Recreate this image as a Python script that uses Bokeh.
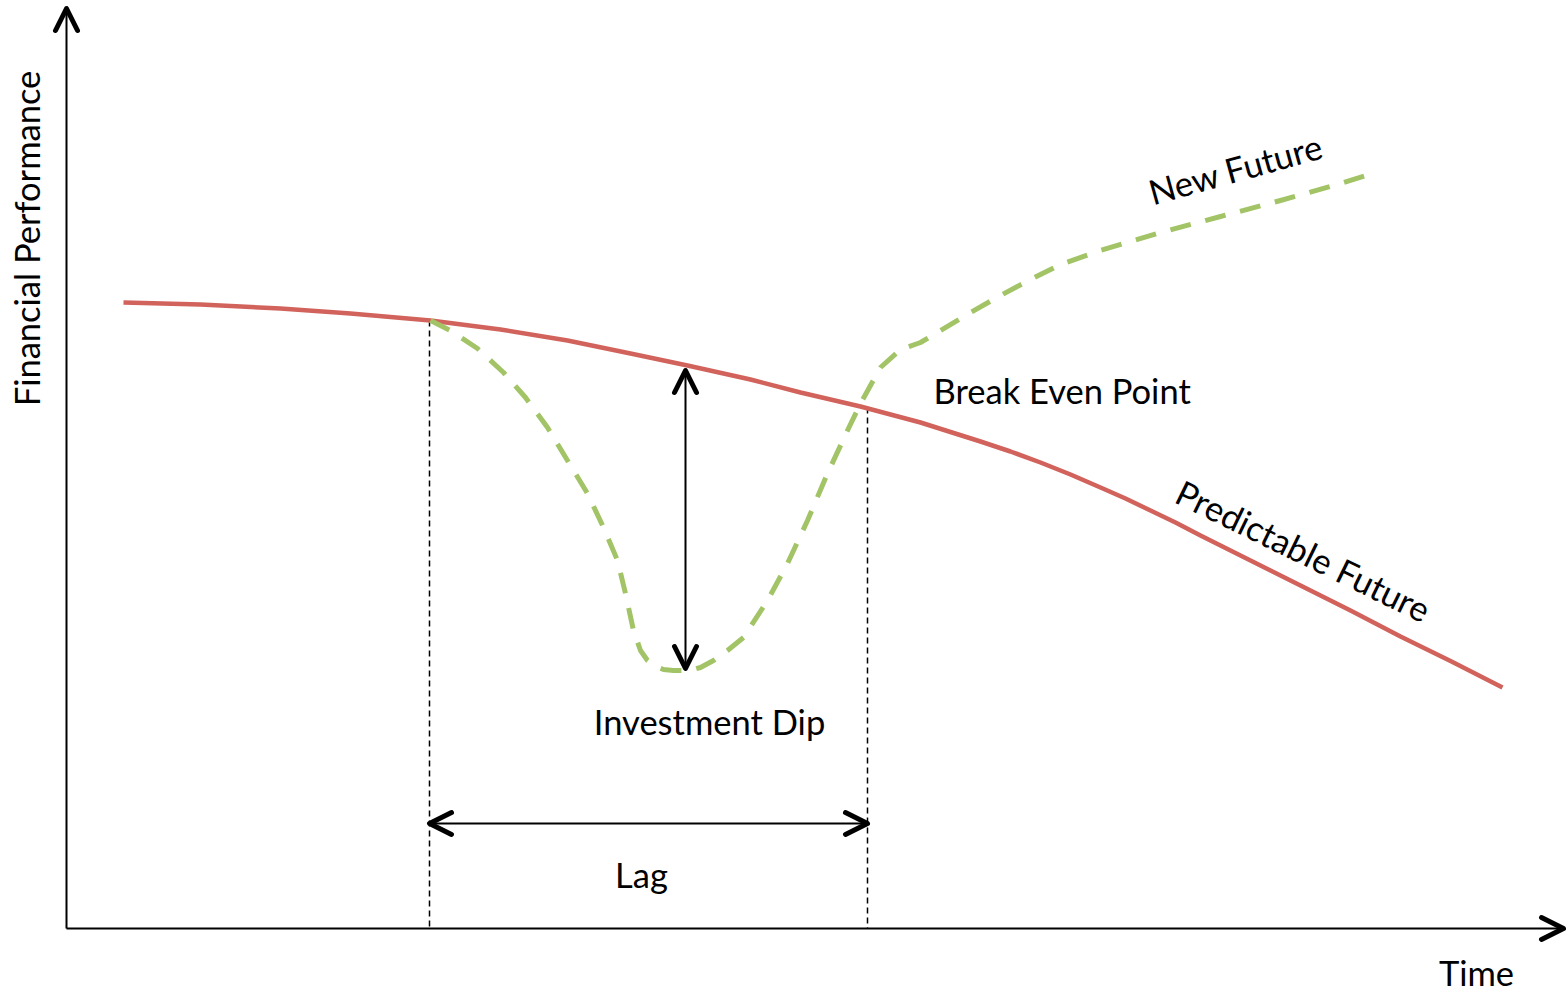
import math
from bokeh.plotting import figure
from bokeh.models import Range1d, Arrow, OpenHead
from bokeh.core.properties import value
from bokeh.embed import file_html
from bokeh.resources import INLINE

# --- data (arbitrary units: time vs financial performance, origin at the axes' crossing)
predictable_time = [57, 134, 214, 284, 364, 434, 501, 564, 621, 684, 734, 794, 854, 914, 944, 974, 1004, 1034,
                    1059, 1084, 1109, 1134, 1184, 1234, 1284, 1334, 1385, 1436]
predictable_perf = [626, 624, 620, 615, 608, 599, 588, 575, 563, 549, 536, 522, 506, 487, 477, 466, 454, 441,
                    430, 418, 406, 393, 368, 343, 318, 292, 267, 241]

new_time = [364, 384, 411, 437, 459, 481, 501, 521, 537, 551, 559, 567, 574, 581, 589, 597, 607, 617, 627, 634,
            647, 661, 677, 701, 721, 741, 761, 781, 794, 814, 834, 854, 874, 904, 934, 964, 994, 1034, 1094,
            1154, 1214, 1274, 1309]
new_perf = [608, 598, 580, 556, 531, 501, 468, 435, 401, 368, 335, 298, 278, 268, 262, 259, 258, 258, 259, 261,
            268, 278, 291, 328, 365, 408, 455, 498, 525, 561, 579, 586, 598, 616, 633, 649, 664, 678, 696,
            712, 728, 745, 756]

lag_start, lag_end = 363, 801          # time at investment start and break-even
start_perf, breakeven_perf = 608, 521  # performance where the guide lines begin
dip_time, dip_top, dip_bottom = 619, 558, 260
lag_level = 105
axis_x_end, axis_y_end = 1497, 920

label_texts = ["Break Even Point", "Investment Dip", "Lag"]
label_x = [867, 643, 575]
label_y = [538, 207, 54]

RED = "#d1635c"
GREEN = "#a2c466"
FONT = "Lato"
FS = "34.5px"

p = figure(width=1566, height=996, output_backend="svg", toolbar_location=None,
           x_range=Range1d(-66, 1500), y_range=Range1d(-68, 928),
           min_border=0, outline_line_color=None)
p.axis.visible = False
p.grid.visible = False
p.background_fill_color = "white"


def head():
    return OpenHead(size=22, line_width=5, line_color="black", line_cap="round", line_join="round")


# axes with arrow heads
p.add_layout(Arrow(x_start=0, y_start=0, x_end=0, y_end=axis_y_end, line_width=2, line_color="black", end=head()))
p.add_layout(Arrow(x_start=0, y_start=0, x_end=axis_x_end, y_end=0, line_width=2, line_color="black", end=head()))

# guide lines
p.segment(x0=[lag_start, lag_end], y0=[start_perf, breakeven_perf], x1=[lag_start, lag_end], y1=[0, 0],
          line_color="black", line_width=1.5, line_dash="6 4")

# curves
p.line(predictable_time, predictable_perf, line_color=RED, line_width=4.5, line_join="round")
p.line(new_time, new_perf, line_color=GREEN, line_width=5, line_dash="21 15", line_join="round")

# double arrows
p.add_layout(Arrow(x_start=dip_time, y_start=dip_top, x_end=dip_time, y_end=dip_bottom,
                   line_width=2, line_color="black", start=head(), end=head()))
p.add_layout(Arrow(x_start=lag_start, y_start=lag_level, x_end=lag_end, y_end=lag_level,
                   line_width=2, line_color="black", start=head(), end=head()))

# texts
common = dict(text_font=value(FONT), text_font_size=FS, text_baseline="middle", text_color="black")
p.text(x=[label_x[0]], y=[label_y[0]], text=[label_texts[0]], text_align="left", **common)
p.text(x=label_x[1:], y=label_y[1:], text=label_texts[1:], text_align="center", **common)
p.text(x=[1169], y=[760], text=["New Future"], angle=math.radians(15.5), text_align="center", **common)
p.text(x=[1237], y=[378], text=["Predictable Future"], angle=math.radians(-26), text_align="center", **common)
p.text(x=[1410], y=[-44], text=["Time"], text_align="center", **common)
p.text(x=[-40], y=[690], text=["Financial Performance"], angle=math.pi / 2, text_align="center", **common)

open("out.html", "w").write(file_html(p, INLINE))
